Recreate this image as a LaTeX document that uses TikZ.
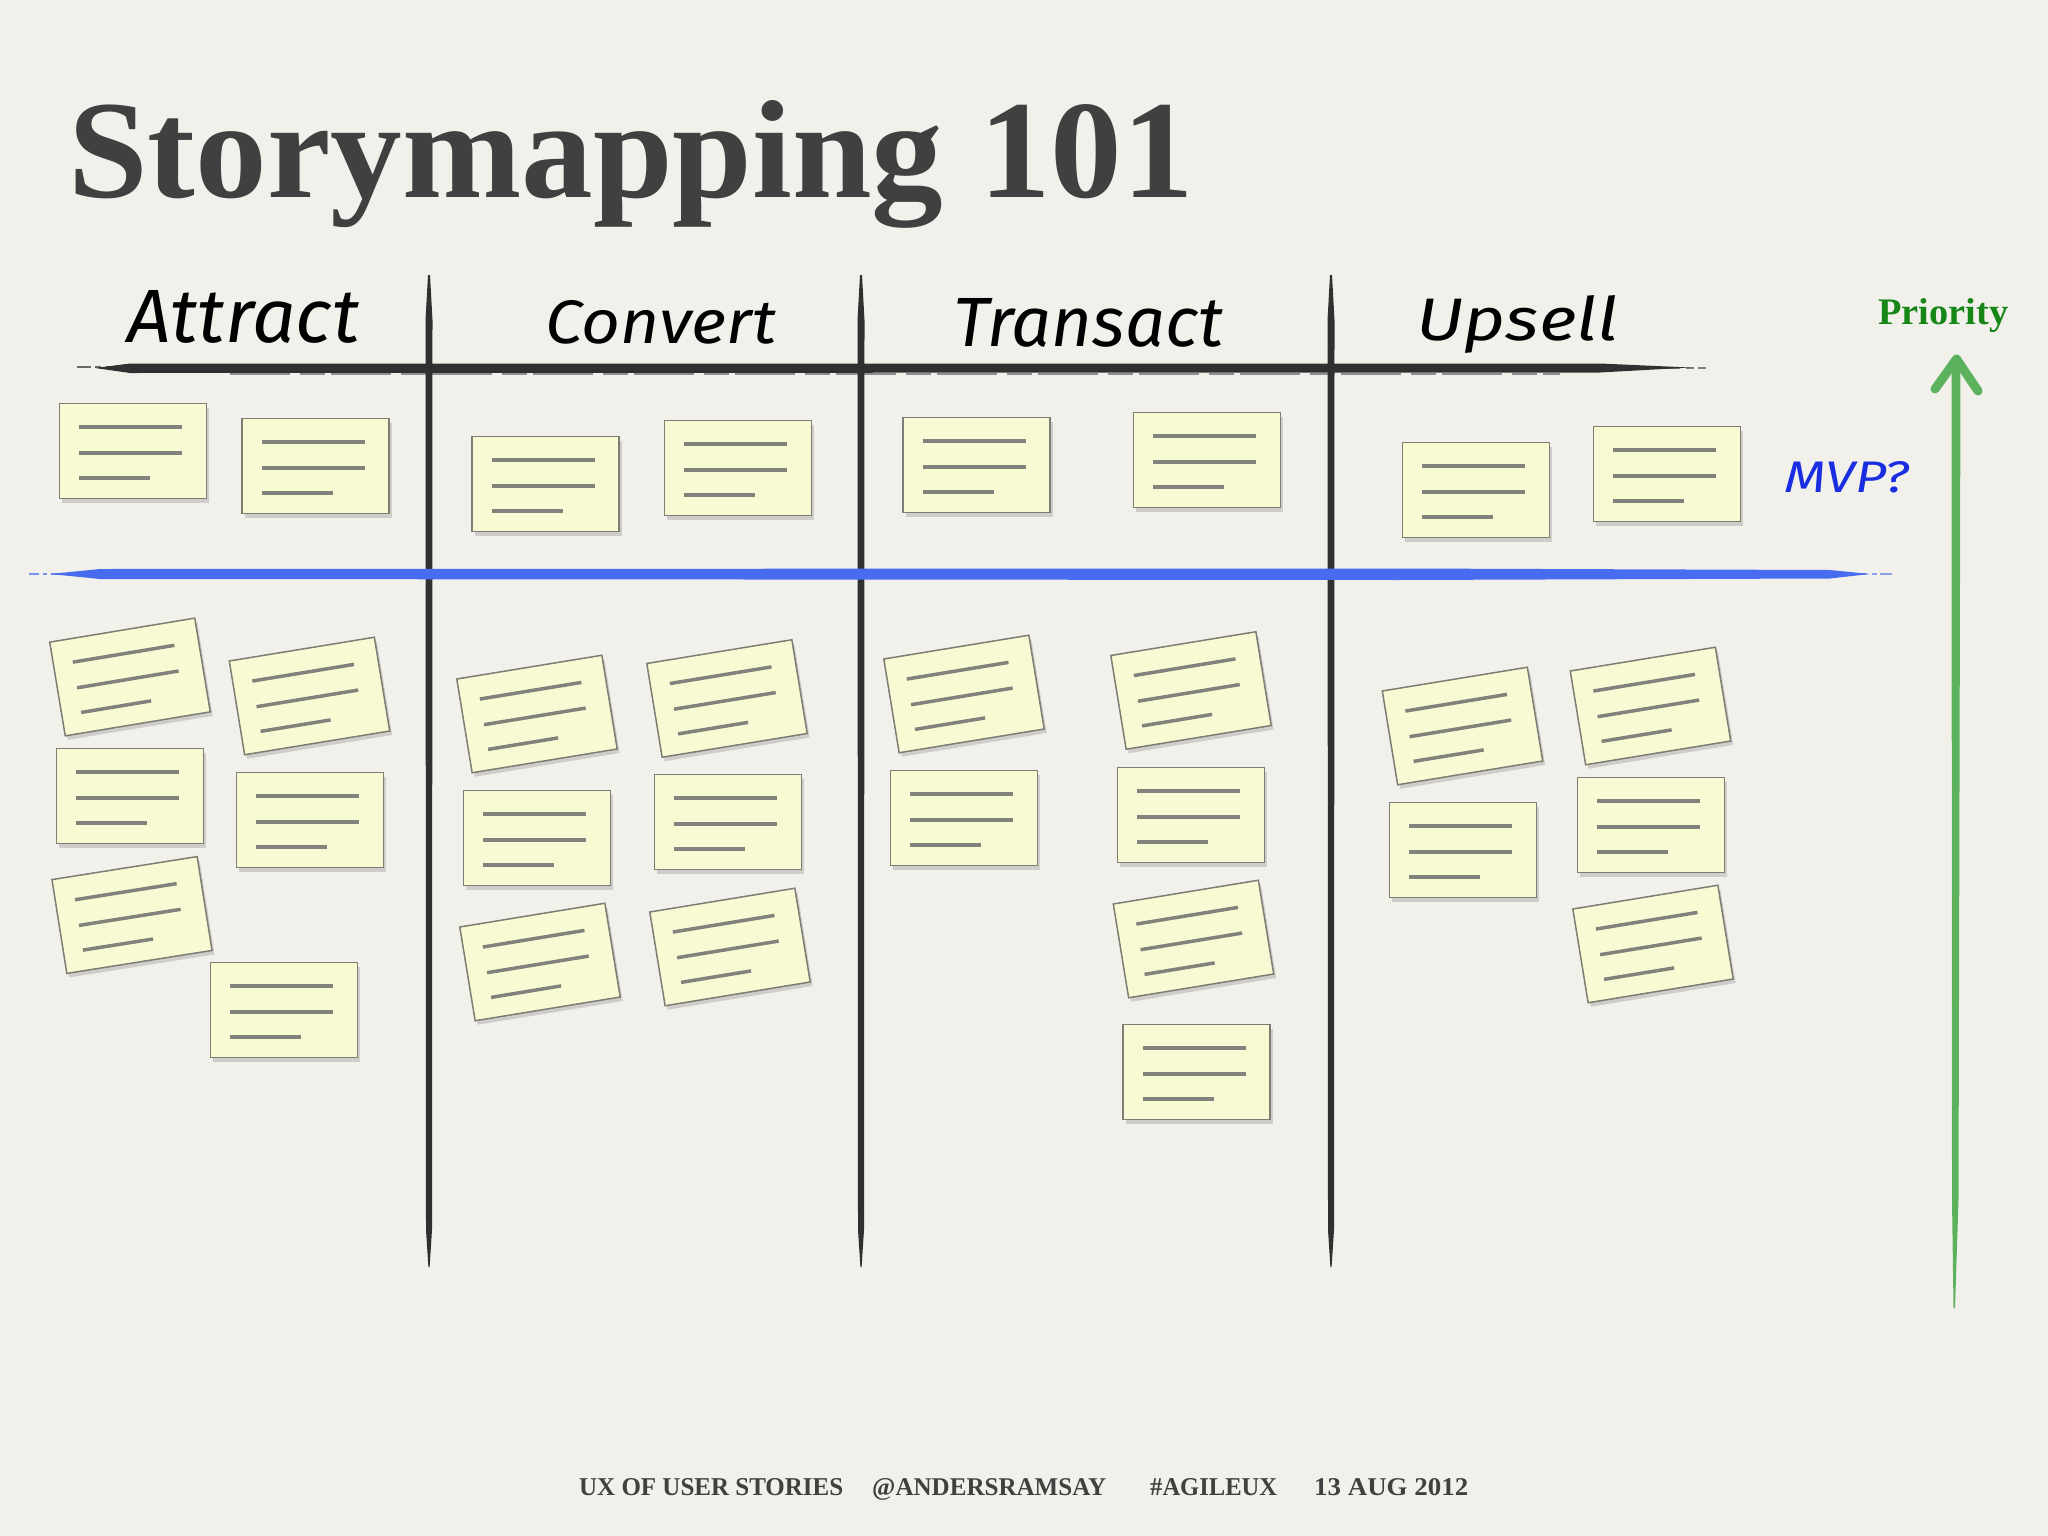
\documentclass[tikz,border=0pt]{standalone}
\usepackage{fontspec}
\setmainfont{Liberation Serif}
\newfontfamily\handfam{Fira Sans}
\newcommand\hand{\handfam\itshape}
\usetikzlibrary{shadows}
\definecolor{bg}{RGB}{242,240,235}
\definecolor{ink}{RGB}{64,64,64}
\definecolor{brush}{RGB}{48,48,48}
\definecolor{notefill}{RGB}{248,250,212}
\definecolor{notebd}{RGB}{125,125,115}
\definecolor{nl}{RGB}{130,130,124}
\definecolor{lineblue}{RGB}{72,108,240}
\definecolor{hblue}{RGB}{25,45,225}
\definecolor{prio}{RGB}{22,135,22}
\definecolor{arrowg}{RGB}{92,178,92}
\tikzset{
  stickynote/.style={draw=notebd, line width=1.5, fill=notefill,
    minimum width=147, minimum height=95, inner sep=0, transform shape,
    drop shadow={opacity=0.28, shadow xshift=2.5pt, shadow yshift=-4pt, fill=black!55}},
  nline/.style={draw=nl, line width=3.5},
  lbl/.style={inner sep=0, anchor=base west},
}
\newcommand\stickynote[4]{%
  \begin{scope}[shift={(#2,#3)}, rotate=#4]
    \node[stickynote] (#1) at (0,0) {};
    \draw[nline] (-54,-24) -- (49,-24);
    \draw[nline] (-54,2) -- (49,2);
    \draw[nline] (-54,27) -- (17,27);
  \end{scope}}
\newcommand\vbrush[1]{%
  \fill[brush] (#1-1,275) -- (#1+1,275) -- (#1+3.5,320) -- (#1+3,1230)
    -- (#1+0.6,1267) -- (#1-0.6,1267) -- (#1-3,1230) -- (#1-3.5,320) -- cycle;}
\begin{document}
\begin{tikzpicture}[x=1pt,y=-1pt]
\fill[bg] (0,0) rectangle (2048,1536);
\useasboundingbox (0,0) rectangle (2048,1536);

% title
\node[lbl, text=ink] (title) at (68,197) {\resizebox{1124pt}{97pt}{\bfseries Storymapping 101}};

% header line (brush stroke)
\fill[brush] (95,368) -- (130,363.5) -- (1600,363.5) -- (1690,367.5) -- (1600,372.5) -- (130,373) -- cycle;
\draw[brush, line width=2, opacity=0.7, dash pattern=on 14pt off 4pt on 6pt off 5pt] (77,367) -- (110,367);
\draw[brush, line width=2, opacity=0.6, dash pattern=on 20pt off 6pt on 8pt off 4pt] (1660,368) -- (1706,368);
\draw[brush, line width=2.5, opacity=0.5, dash pattern=on 60pt off 10pt on 25pt off 6pt] (230,374) -- (1560,374);

% column dividers
\vbrush{429}
\vbrush{861}
\vbrush{1331}

% headers
\node[lbl] (attract) at (127,342) {\resizebox{232pt}{52pt}{\hand Attract}};
\node[lbl] (convert) at (545,343) {\resizebox{231pt}{43pt}{\hand Convert}};
\node[lbl] (transact) at (953,346) {\resizebox{270pt}{48pt}{\hand Transact}};
\node[lbl] (upsell) at (1416,340) {\resizebox{202pt}{45pt}{\hand Upsell}};
\node[lbl, text=prio] (priority) at (1878,324) {\resizebox{130pt}{26pt}{\bfseries Priority}};

% MVP line
\fill[lineblue] (50,574) -- (100,569) -- (1400,568.5) -- (1830,570) -- (1870,574) -- (1830,578.5) -- (1400,580) -- (100,579) -- cycle;
\draw[lineblue, line width=2, opacity=0.7, dash pattern=on 10pt off 4pt on 4pt off 4pt] (29,574) -- (60,574);
\draw[lineblue, line width=2.5, opacity=0.6, dash pattern=on 12pt off 5pt on 5pt off 3pt] (1830,574) -- (1896,574);
\node[lbl, text=hblue] (mvp) at (1784,492) {\resizebox{125pt}{31pt}{\hand MVP?}};

% priority arrow
\fill[arrowg] (1951.5,362) -- (1960.5,362) -- (1958.5,1200) -- (1955,1308) -- (1953.5,1308) -- (1952,1200) -- cycle;
\draw[arrowg, line width=9, line cap=round, line join=round] (1935,389) -- (1956.5,359) -- (1978,391);

% top row (MVP)
\stickynote{a1}{133}{451}{0}
\stickynote{a2}{315.5}{466}{0}
\stickynote{c1}{545.5}{484}{0}
\stickynote{c2}{738}{468}{0}
\stickynote{t1}{976.5}{465}{0}
\stickynote{t2}{1207}{460}{0}
\stickynote{u1}{1476}{490}{0}
\stickynote{u2}{1667}{474}{0}

% backlog
\stickynote{a3}{130}{677}{9.4}
\stickynote{a4}{309.5}{696}{9.3}
\stickynote{a5}{130}{796}{0}
\stickynote{a6}{310}{820}{0}
\stickynote{a7}{132}{915}{9}
\stickynote{a8}{284}{1010}{0}

\stickynote{c3}{537}{714}{9.3}
\stickynote{c4}{727}{698.5}{9.3}
\stickynote{c5}{537}{838}{0}
\stickynote{c6}{728}{822}{0}
\stickynote{c7}{540}{962}{9.3}
\stickynote{c8}{730}{947}{9.3}

\stickynote{t3}{964}{694}{9.3}
\stickynote{t4}{1191}{690.5}{9.3}
\stickynote{t5}{964}{818}{0}
\stickynote{t6}{1191}{815}{0}
\stickynote{t7}{1193.5}{939}{9.3}
\stickynote{t8}{1196.5}{1072}{0}

\stickynote{u3}{1462.5}{726}{9.3}
\stickynote{u4}{1650.5}{706}{9.3}
\stickynote{u5}{1463}{850}{0}
\stickynote{u6}{1651}{825}{0}
\stickynote{u7}{1653}{944}{9.3}

% footer
\node[lbl, text=ink] (f1) at (579,1495) {\resizebox{264pt}{17pt}{\bfseries UX OF USER STORIES}};
\node[lbl, text=ink] (f2) at (872,1495) {\resizebox{234pt}{17pt}{\bfseries @ANDERSRAMSAY}};
\node[lbl, text=ink] (f3) at (1150,1495) {\resizebox{127pt}{17pt}{\bfseries \#AGILEUX}};
\node[lbl, text=ink] (f4) at (1314,1495) {\resizebox{154pt}{17pt}{\bfseries 13 AUG 2012}};
\end{tikzpicture}
\end{document}
